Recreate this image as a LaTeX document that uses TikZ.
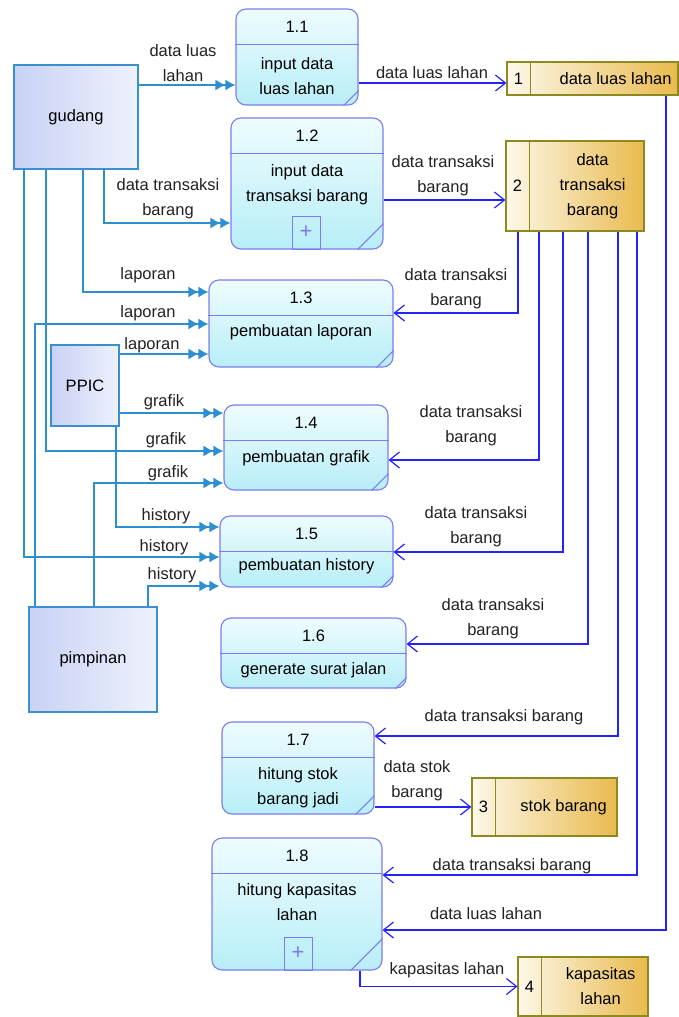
\documentclass[tikz,border=0pt]{standalone}
\usepackage{fontspec}
\setmainfont{Liberation Sans}
\usetikzlibrary{arrows.meta}
\usetikzlibrary{positioning}

\definecolor{entline}{HTML}{3A8FD0}
\definecolor{entfillA}{HTML}{C8D2F4}
\definecolor{entfillB}{HTML}{EEF1FD}
\definecolor{procline}{HTML}{7C7CF0}
\definecolor{procfillA}{HTML}{EEFCFE}
\definecolor{procfillB}{HTML}{B8EEF8}
\definecolor{storeline}{HTML}{8C8A1E}
\definecolor{storefillA}{HTML}{FDF8EA}
\definecolor{storefillB}{HTML}{E9BA4E}
\definecolor{flowline}{HTML}{2323FF}
\definecolor{entflowline}{HTML}{2D8FD0}
\definecolor{labeltext}{HTML}{222222}

\tikzset{
  ent/.style={draw=entline,line width=1.3pt,left color=entfillA,right color=entfillB},
  proc/.style={draw=procline,line width=1.1pt,rounded corners=10pt,top color=procfillA,bottom color=procfillB},
  store/.style={draw=storeline,line width=1.2pt,left color=storefillA,right color=storefillB},
  entflow/.style={draw=entflowline,line width=1.4pt,-{Latex[length=10pt,width=11pt]Latex[length=10pt,width=11pt]}},
  dataflow/.style={draw=flowline,line width=1.2pt,-{Straight Barb[length=10pt,width=16pt]}},
  flowlabel/.style={align=center,text=labeltext,inner sep=1pt},
  plusbox/.style={draw=procline,line width=1pt,minimum width=28pt,minimum height=33pt,inner sep=0pt,text=procline,font=\fontsize{22}{22}\selectfont}
}

\begin{document}
\begin{tikzpicture}[x=1pt,y=-1pt,every node/.style={font=\fontsize{16.5}{25}\selectfont}]
    \useasboundingbox (0,0) rectangle (679,1017);

    % draw external entities
    \node[ent,minimum width=124pt,minimum height=104pt] (gud) at (76,117) {gudang};
    \node[ent,minimum width=68pt,minimum height=81pt] (ppic) at (85,385.5) {PPIC};
    \node[ent,minimum width=128pt,minimum height=105pt] (pim) at (93,659.5) {pimpinan};

    % draw processes
    \node[proc,minimum width=122pt,minimum height=96pt] (p11) at (297,57) {};
    \node[proc,minimum width=152pt,minimum height=131pt] (p12) at (307,183.5) {};
    \node[proc,minimum width=184pt,minimum height=87pt] (p13) at (301,323.5) {};
    \node[proc,minimum width=164pt,minimum height=85pt] (p14) at (306,447.5) {};
    \node[proc,minimum width=173pt,minimum height=71pt] (p15) at (306.5,551.5) {};
    \node[proc,minimum width=185pt,minimum height=70pt] (p16) at (313.5,653) {};
    \node[proc,minimum width=152pt,minimum height=92pt] (p17) at (298,768) {};
    \node[proc,minimum width=170pt,minimum height=132pt] (p18) at (297,904) {};

    % divider, number, name and fold of each process
    \foreach \p/\num/\txt/\off/\fold in {
        p11/1.1/{input data\\luas lahan}/67.5/15,
        p12/1.2/{input data\\transaksi barang}/67/26,
        p13/1.3/{pembuatan laporan}/53/17,
        p14/1.4/{pembuatan grafik}/54/17,
        p15/1.5/{pembuatan history}/51/12,
        p16/1.6/{generate surat jalan}/53/11,
        p17/1.7/{hitung stok\\barang jadi}/66/19,
        p18/1.8/{hitung kapasitas\\lahan}/65/32}
    {
        \draw[procline,line width=1.1pt] ([yshift=-36pt]\p.north west) -- ([yshift=-36pt]\p.north east);
        \draw[procline,line width=1pt] ([xshift=-\fold pt]\p.south east) -- ([yshift=\fold pt]\p.south east);
        \node (\p-num) at ([yshift=-18pt]\p.north) {\num};
        \node[align=center] (\p-txt) at ([yshift=-\off pt]\p.north) {\txt};
    }

    % "+" boxes of the exploded processes
    \node[plusbox,anchor=south] (p12-plus) at ([xshift=-1pt]p12.south) {+};
    \node[plusbox,anchor=south] (p18-plus) at ([xshift=1pt]p18.south) {+};

    % draw data stores
    \node[store,minimum width=171pt,minimum height=33pt] (s1) at (592.5,78.5) {};
    \node[store,minimum width=138pt,minimum height=90pt] (s2) at (575,186) {};
    \node[store,minimum width=145pt,minimum height=58pt] (s3) at (544.5,807) {};
    \node[store,minimum width=130pt,minimum height=59pt] (s4) at (583,986.5) {};
    \foreach \s/\num/\txt/\off in {
        s1/1/{data luas lahan}/63,
        s2/2/{data\\transaksi\\barang}/52,
        s3/3/{stok barang}/54,
        s4/4/{kapasitas\\lahan}/48}
    {
        \draw[storeline,line width=1.2pt] ([xshift=24pt]\s.north west) -- ([xshift=24pt]\s.south west);
        \node (\s-num) at ([xshift=12pt]\s.west) {\num};
        \node[align=center] (\s-txt) at ([xshift=-\off pt]\s.east) {\txt};
    }

    % flows from the entities
    \draw[entflow] ([yshift=32pt]gud.east) -- ([yshift=-28pt]p11.west);
    \draw[entflow] ([xshift=28pt]gud.south) |- ([yshift=-39.5pt]p12.west);
    \draw[entflow] ([xshift=7pt]gud.south) |- ([yshift=31.5pt]p13.west);
    \draw[entflow] ([xshift=-58pt]pim.north) |- ([yshift=-0.5pt]p13.west);
    \draw[entflow] ([yshift=31.5pt]ppic.east) -- ([yshift=-30.5pt]p13.west);
    \draw[entflow] ([yshift=-27.5pt]ppic.east) -- ([yshift=34.5pt]p14.west);
    \draw[entflow] ([xshift=-30pt]gud.south) |- ([yshift=-3.5pt]p14.west);
    \draw[entflow] ([xshift=1pt]pim.north) |- ([yshift=-35.5pt]p14.west);
    \draw[entflow] ([xshift=31pt]ppic.south) |- ([yshift=24.5pt]p15.west);
    \draw[entflow] ([xshift=-52pt]gud.south) |- ([yshift=-5.5pt]p15.west);
    \draw[entflow] ([xshift=55pt]pim.north) |- ([yshift=-34.5pt]p15.west);

    % flows to and from the stores
    \draw[dataflow] ([yshift=-26pt]p11.east) -- ([yshift=-4.5pt]s1.west);
    \draw[dataflow] ([yshift=-16.5pt]p12.east) -- ([yshift=-14pt]s2.west);
    \draw[dataflow] ([xshift=-57pt]s2.south) |- ([yshift=10.5pt]p13.east);
    \draw[dataflow] ([xshift=-36pt]s2.south) |- ([yshift=-12.5pt]p14.east);
    \draw[dataflow] ([xshift=-12pt]s2.south) |- ([yshift=-0.5pt]p15.east);
    \draw[dataflow] ([xshift=13pt]s2.south) |- ([yshift=9pt]p16.east);
    \draw[dataflow] ([xshift=43pt]s2.south) |- ([yshift=32pt]p17.east);
    \draw[dataflow] ([xshift=62pt]s2.south) |- ([yshift=29pt]p18.east);
    \draw[dataflow] ([xshift=73.5pt]s1.south) |- ([yshift=-26pt]p18.east);
    \draw[dataflow] ([yshift=-39pt]p17.east) -- (s3.west);
    \draw[dataflow] ([xshift=63pt]p18.south) |- (s4.west);

    % flow labels
    \node[flowlabel] (l-gud-p11) at (183,63) {data luas\\lahan};
    \node[flowlabel] (l-gud-p12) at (168,199) {data transaksi\\barang};
    \node[flowlabel] (l-gud-p13) at (148,275) {laporan};
    \node[flowlabel] (l-pim-p13) at (148,313) {laporan};
    \node[flowlabel] (l-ppic-p13) at (152,345) {laporan};
    \node[flowlabel] (l-ppic-p14) at (164,402) {grafik};
    \node[flowlabel] (l-gud-p14) at (166,440) {grafik};
    \node[flowlabel] (l-pim-p14) at (168,473) {grafik};
    \node[flowlabel] (l-ppic-p15) at (166,516) {history};
    \node[flowlabel] (l-gud-p15) at (164,547) {history};
    \node[flowlabel] (l-pim-p15) at (172,575) {history};
    \node[flowlabel] (l-p11-s1) at (432,73) {data luas lahan};
    \node[flowlabel] (l-p12-s2) at (443,176) {data transaksi\\barang};
    \node[flowlabel] (l-s2-p13) at (456,289) {data transaksi\\barang};
    \node[flowlabel] (l-s2-p14) at (471,426) {data transaksi\\barang};
    \node[flowlabel] (l-s2-p15) at (476,527) {data transaksi\\barang};
    \node[flowlabel] (l-s2-p16) at (493,619) {data transaksi\\barang};
    \node[flowlabel] (l-s2-p17) at (504,717) {data transaksi barang};
    \node[flowlabel] (l-s2-p18) at (512,866) {data transaksi barang};
    \node[flowlabel] (l-s1-p18) at (486,914) {data luas lahan};
    \node[flowlabel] (l-p17-s3) at (417,781) {data stok\\barang};
    \node[flowlabel] (l-p18-s4) at (447,970) {kapasitas lahan};
\end{tikzpicture}
\end{document}
